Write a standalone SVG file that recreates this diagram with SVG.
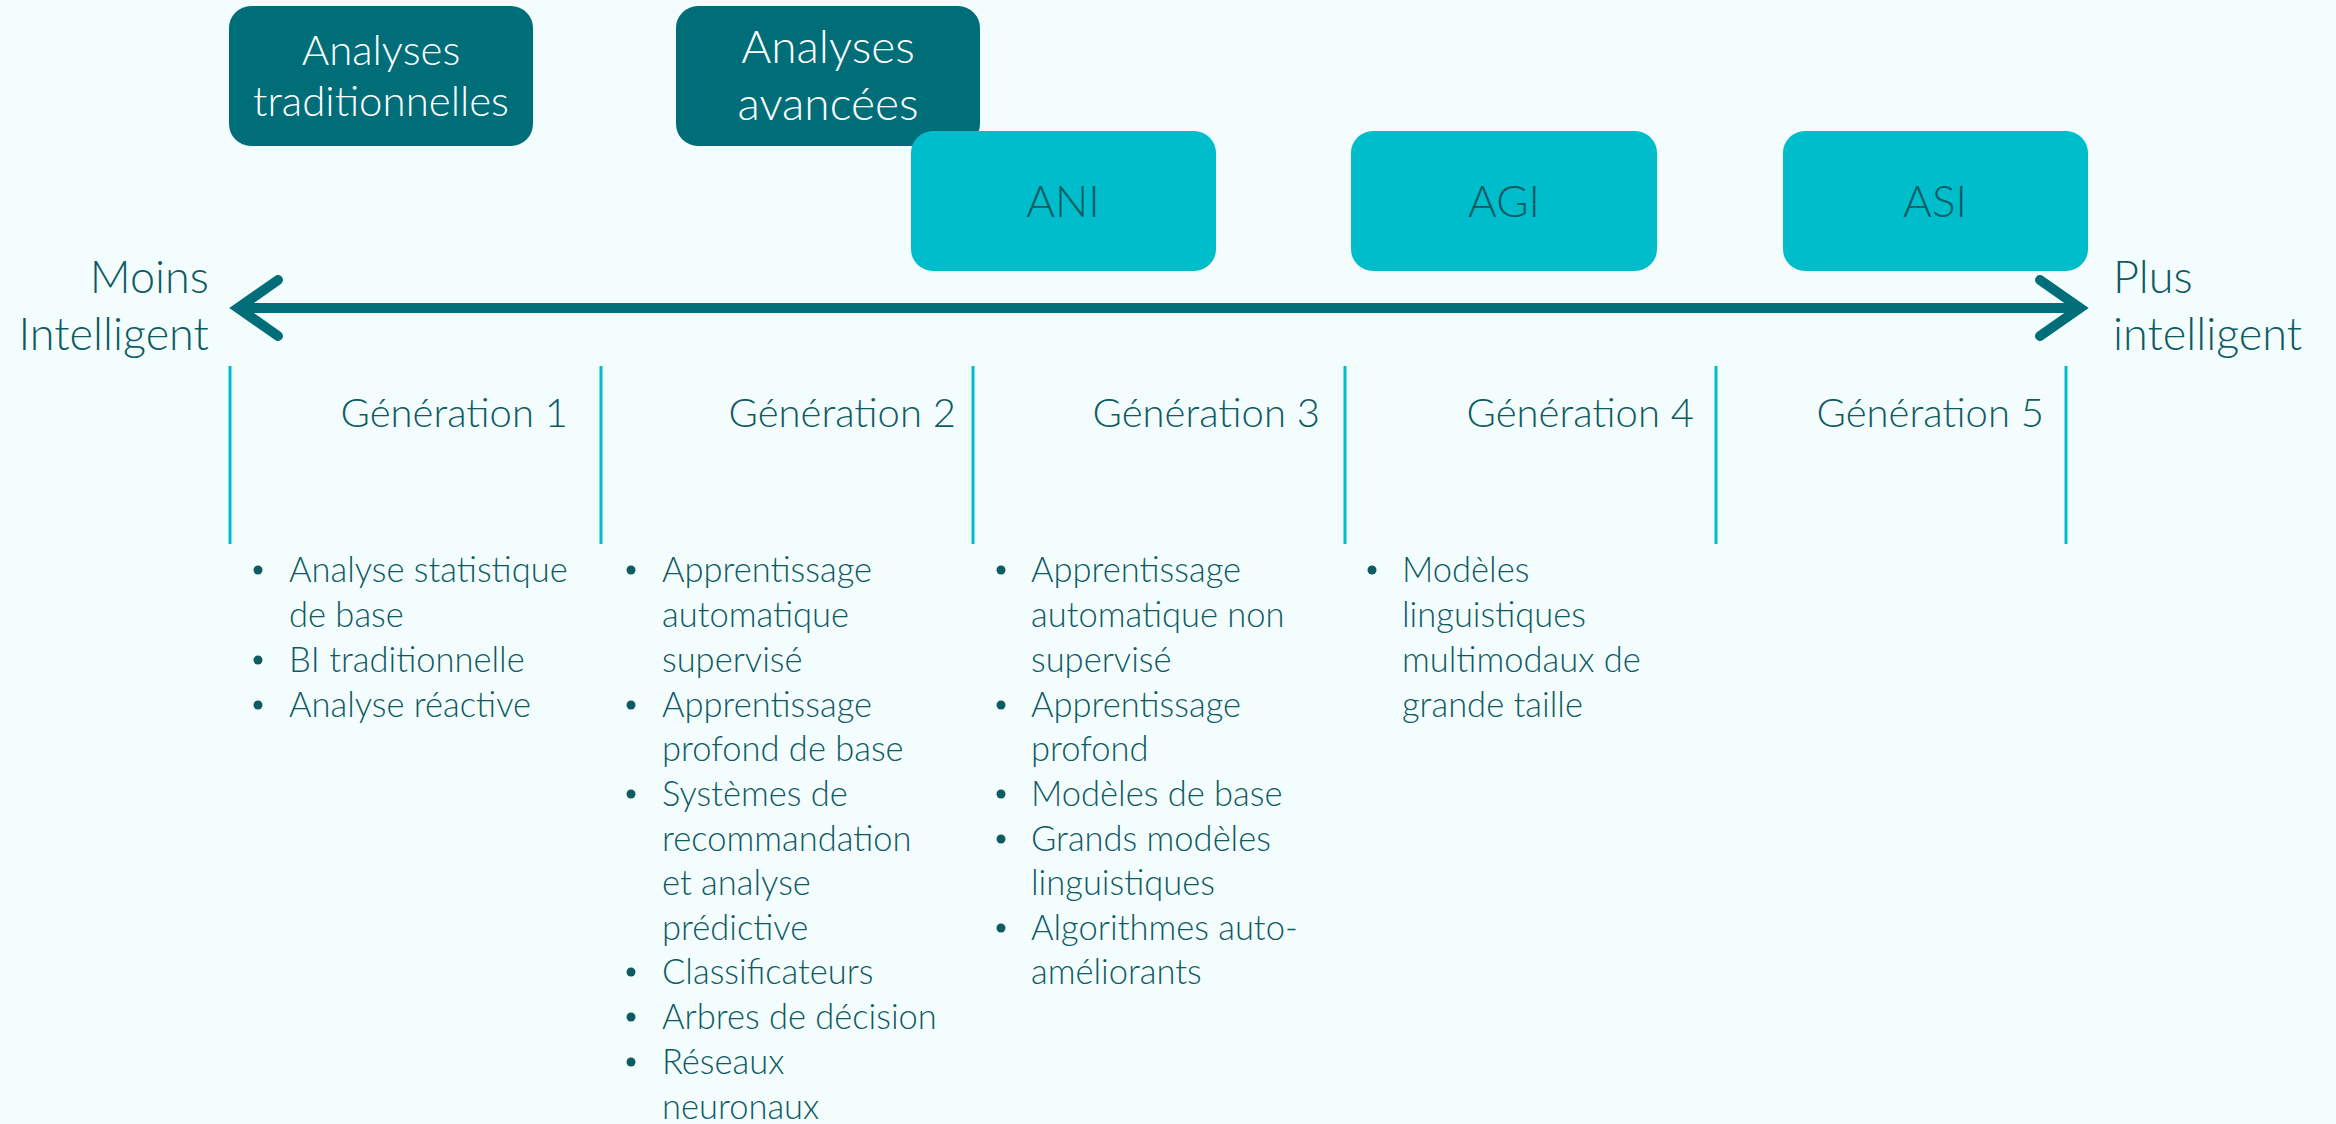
<svg xmlns="http://www.w3.org/2000/svg" width="2336" height="1124" viewBox="0 0 2336 1124">
<defs>
<style>
text{font-family:Lato,"Source Sans Pro","Open Sans","Liberation Sans",sans-serif;font-weight:300;}
.dark{fill:#006E78;}
.cyan{fill:#00BDCB;}
.wt{fill:#ffffff;font-size:42px;text-anchor:middle;}
.ct{fill:#0E5B63;font-size:44px;text-anchor:middle;}
.lbl{fill:#0E5B63;font-size:45px;}
.gen{fill:#0E5B63;font-size:40px;text-anchor:end;}
.bl{fill:#0E5B63;font-size:34.5px;}
.div{stroke:#00BDCB;stroke-width:3;fill:none;}
.dot{fill:#0E5B63;}
</style>
<marker id="chev" markerUnits="userSpaceOnUse" viewBox="-60 -40 70 80" markerWidth="70" markerHeight="80" refX="0" refY="0" orient="auto-start-reverse" overflow="visible">
<path d="M-42,-28 L-2,0 L-42,28" fill="none" stroke="#006E78" stroke-width="10" stroke-linecap="round" stroke-linejoin="miter"/>
</marker>
</defs>
<rect width="2336" height="1124" fill="#F4FDFE"/>

<g id="connectors">
<line x1="236" y1="308" x2="2082" y2="308" stroke="#006E78" stroke-width="10" marker-start="url(#chev)" marker-end="url(#chev)"/>
</g>

<g id="axis-labels">
<text class="lbl" x="209" y="293" text-anchor="end">Moins</text>
<text class="lbl" x="209" y="350" text-anchor="end">Intelligent</text>
<text class="lbl" x="2113" y="293">Plus</text>
<text class="lbl" x="2113" y="350">intelligent</text>
</g>

<g id="node-trad">
<rect class="dark" x="229" y="6" width="304" height="140" rx="22"/>
<text class="wt" x="381" y="65">Analyses</text>
<text class="wt" x="381" y="116">traditionnelles</text>
</g>
<g id="node-avancees">
<rect class="dark" x="676" y="6" width="304" height="140" rx="22"/>
<text class="wt" x="828" y="63" style="font-size:46px">Analyses</text>
<text class="wt" x="828" y="120" style="font-size:46px">avancées</text>
</g>
<g id="node-ani">
<rect class="cyan" x="911" y="131" width="305" height="140" rx="22"/>
<text class="ct" x="1063" y="217">ANI</text>
</g>
<g id="node-agi">
<rect class="cyan" x="1351" y="131" width="306" height="140" rx="22"/>
<text class="ct" x="1504" y="217">AGI</text>
</g>
<g id="node-asi">
<rect class="cyan" x="1783" y="131" width="305" height="140" rx="22"/>
<text class="ct" x="1935" y="217">ASI</text>
</g>

<g id="dividers">
<line class="div" x1="230" y1="366" x2="230" y2="544"/>
<line class="div" x1="601" y1="366" x2="601" y2="544"/>
<line class="div" x1="973" y1="366" x2="973" y2="544"/>
<line class="div" x1="1345" y1="366" x2="1345" y2="544"/>
<line class="div" x1="1716" y1="366" x2="1716" y2="544"/>
<line class="div" x1="2066" y1="366" x2="2066" y2="544"/>
</g>

<g id="gen-labels">
<text class="gen" x="568" y="427">Génération 1</text>
<text class="gen" x="956" y="427">Génération 2</text>
<text class="gen" x="1320" y="427">Génération 3</text>
<text class="gen" x="1694" y="427">Génération 4</text>
<text class="gen" x="2044" y="427">Génération 5</text>
</g>

<g id="gen1-list">
<circle class="dot" cx="258" cy="570" r="4.5"/>
<text class="bl" x="289" y="582">Analyse statistique</text>
<text class="bl" x="289" y="627">de base</text>
<circle class="dot" cx="258" cy="660" r="4.5"/>
<text class="bl" x="289" y="672">BI traditionnelle</text>
<circle class="dot" cx="258" cy="705" r="4.5"/>
<text class="bl" x="289" y="717">Analyse réactive</text>
</g>

<g id="gen2-list">
<circle class="dot" cx="631" cy="570" r="4.5"/>
<text class="bl" x="662" y="582">Apprentissage</text>
<text class="bl" x="662" y="627">automatique</text>
<text class="bl" x="662" y="672">supervisé</text>
<circle class="dot" cx="631" cy="705" r="4.5"/>
<text class="bl" x="662" y="717">Apprentissage</text>
<text class="bl" x="662" y="761">profond de base</text>
<circle class="dot" cx="631" cy="794" r="4.5"/>
<text class="bl" x="662" y="806">Systèmes de</text>
<text class="bl" x="662" y="851">recommandation</text>
<text class="bl" x="662" y="895">et analyse</text>
<text class="bl" x="662" y="940">prédictive</text>
<circle class="dot" cx="631" cy="972" r="4.5"/>
<text class="bl" x="662" y="984">Classificateurs</text>
<circle class="dot" cx="631" cy="1017" r="4.5"/>
<text class="bl" x="662" y="1029">Arbres de décision</text>
<circle class="dot" cx="631" cy="1062" r="4.5"/>
<text class="bl" x="662" y="1074">Réseaux</text>
<text class="bl" x="662" y="1119">neuronaux</text>
</g>

<g id="gen3-list">
<circle class="dot" cx="1001" cy="570" r="4.5"/>
<text class="bl" x="1031" y="582">Apprentissage</text>
<text class="bl" x="1031" y="627">automatique non</text>
<text class="bl" x="1031" y="672">supervisé</text>
<circle class="dot" cx="1001" cy="705" r="4.5"/>
<text class="bl" x="1031" y="717">Apprentissage</text>
<text class="bl" x="1031" y="761">profond</text>
<circle class="dot" cx="1001" cy="794" r="4.5"/>
<text class="bl" x="1031" y="806">Modèles de base</text>
<circle class="dot" cx="1001" cy="839" r="4.5"/>
<text class="bl" x="1031" y="851">Grands modèles</text>
<text class="bl" x="1031" y="895">linguistiques</text>
<circle class="dot" cx="1001" cy="928" r="4.5"/>
<text class="bl" x="1031" y="940">Algorithmes auto-</text>
<text class="bl" x="1031" y="984">améliorants</text>
</g>

<g id="gen4-list">
<circle class="dot" cx="1372" cy="570" r="4.5"/>
<text class="bl" x="1402" y="582">Modèles</text>
<text class="bl" x="1402" y="627">linguistiques</text>
<text class="bl" x="1402" y="672">multimodaux de</text>
<text class="bl" x="1402" y="717">grande taille</text>
</g>
</svg>
